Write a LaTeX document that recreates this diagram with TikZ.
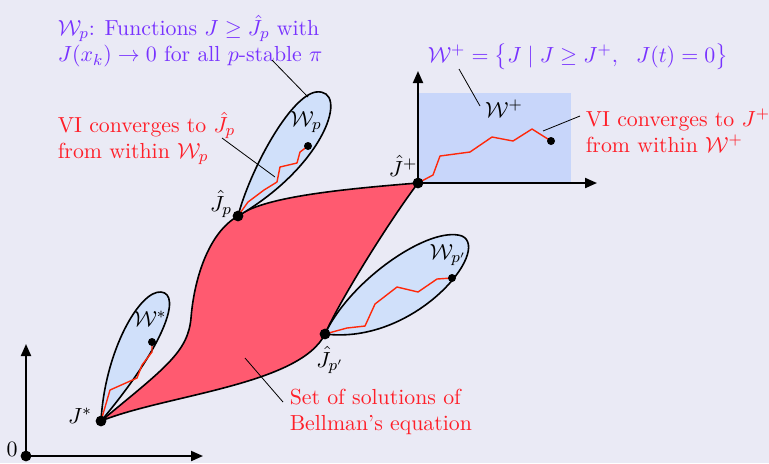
\documentclass[tikz,border=0pt]{standalone}
\usepackage{amsmath,amssymb}
\usetikzlibrary{arrows.meta}
\definecolor{bgcol}{RGB}{234,234,245}
\definecolor{setred}{RGB}{255,90,112}
\definecolor{leafblue}{RGB}{208,224,250}
\definecolor{wplusblue}{RGB}{200,214,250}
\definecolor{walkred}{RGB}{255,40,10}
\definecolor{txtred}{RGB}{255,30,40}
\definecolor{txtviolet}{RGB}{120,50,255}
\begin{document}
\begin{tikzpicture}[x=0.5pt, y=-0.5pt, line width=0.8pt,
  font=\fontsize{10.9}{13}\selectfont,
  leaf/.style={draw=black, fill=leafblue, line width=0.8pt},
  walk/.style={draw=walkred, line width=0.7pt, line join=round},
  axis/.style={-{Triangle[length=6pt,width=5pt]}, line width=1pt},
  pointer/.style={draw=black, line width=0.4pt},
  ptlabel/.style={inner sep=1pt},
  redtext/.style={text=txtred, align=left, inner sep=0pt},
  violettext/.style={text=txtviolet, align=left, inner sep=0pt}]
  \fill[bgcol] (0,0) rectangle (769,463);
  \useasboundingbox (0,0) rectangle (769,463);
  % points
  \coordinate (J0) at (26,456);
  \coordinate (Jstar) at (101,421);
  \coordinate (Jp) at (238,216);
  \coordinate (Jplus) at (418,183);
  \coordinate (Jpp) at (325,334);
  \coordinate (yTip0) at (26,344);
  \coordinate (xTip0) at (203,456);
  \coordinate (yTipP) at (418,71);
  \coordinate (xTipP) at (597,183);
  % set of solutions
  \filldraw[fill=setred, draw=black] (Jstar) .. controls (165,395) and (300,385) .. (Jpp)
    .. controls (340,300) and (390,220) .. (Jplus)
    .. controls (330,190) and (262,198) .. (Jp)
    .. controls (208,233) and (194,280) .. (191,318)
    .. controls (188,352) and (165,368) .. (Jstar) -- cycle;
  % leaves
  \draw[leaf] (Jstar) .. controls (105,350) and (140,290) .. (161,292)
    .. controls (182,294) and (165,345) .. (Jstar);
  \draw[leaf] (Jp) .. controls (250,170) and (290,96) .. (316,92)
    .. controls (350,88) and (326,165) .. (Jp);
  \draw[leaf] (Jpp) .. controls (350,280) and (430,225) .. (462,236)
    .. controls (492,250) and (415,345) .. (Jpp);
  \fill[wplusblue] (418,93) rectangle (571,183);
  % axes
  \draw[axis] (J0) -- (yTip0);
  \draw[axis] (J0) -- (xTip0);
  \draw[axis] (Jplus) -- (yTipP);
  \draw[axis] (Jplus) -- (xTipP);
  % value iterations
  \coordinate (vStar) at (152,342);
  \coordinate (vP) at (308,146);
  \coordinate (vPP) at (452,278);
  \coordinate (vPlus) at (551,141);
  \draw[walk] (Jstar) -- (110,390) -- (137,378) -- (142,365) -- (152,352) -- (vStar);
  \draw[walk] (Jp) -- (248,202) -- (264,190) -- (277,182) -- (280,167) -- (297,163) -- (300,152) -- (vP);
  \draw[walk] (Jpp) -- (347,328) -- (365,326) -- (375,304) -- (397,287) -- (418,292) -- (437,279) -- (vPP);
  \draw[walk] (Jplus) -- (433,175) -- (440,156) -- (470,152) -- (492,137) -- (513,141) -- (532,129) -- (vPlus);
  \foreach \pt in {J0,Jstar,Jp,Jplus,Jpp}
    \fill (\pt) circle (2.7pt);
  \foreach \pt in {vStar,vP,vPP,vPlus}
    \fill (\pt) circle (2pt);
  % labels of points and sets
  \node[ptlabel] (l0) at (12,449) {$0$};
  \node[ptlabel] (lJstar) at (80,416) {$J^*$};
  \node[ptlabel] (lJp) at (221,204) {$\hat J_p$};
  \node[ptlabel] (lJplus) at (403,166) {$\hat J^+$};
  \node[ptlabel] (lJpp) at (330,360) {$\hat J_{p'}$};
  \node[ptlabel] (lWstar) at (150,319) {$\mathcal{W}^*$};
  \node[ptlabel] (lWp) at (306,122) {$\mathcal{W}_p$};
  \node[ptlabel] (lWpp) at (448,255) {$\mathcal{W}_{p'}$};
  \node[ptlabel] (lWplus) at (504,109) {$\mathcal{W}^+$};
  % texts
  \node[violettext, anchor=north west] (tWp) at (57,14)
    {$\mathcal{W}_p$: Functions $J\geq\hat J_p$ with\\ $J(x_k)\to0$ for all $p$-stable $\pi$};
  \node[redtext, anchor=north west] (tVIp) at (57,111)
    {VI converges to $\hat J_p$\\ from within $\mathcal{W}_p$};
  \node[violettext, anchor=base west] (tWplus) at (427,62)
    {$\mathcal{W}^+=\bigl\{J\mid J\geq J^+,\ \ J(t)=0\bigr\}$};
  \node[redtext, anchor=north west] (tVIplus) at (585,108)
    {VI converges to $J^+$\\ from within $\mathcal{W}^+$};
  \node[redtext, anchor=north west] (tSet) at (289,388)
    {Set of solutions of\\ Bellman's equation};
  % pointers
  \coordinate (pWpA) at (272,60);  \coordinate (pWpB) at (308,97);
  \coordinate (pVIpA) at (222,138); \coordinate (pVIpB) at (275,177);
  \coordinate (pWplusA) at (459,69); \coordinate (pWplusB) at (480,106);
  \coordinate (pVIplusA) at (580,116); \coordinate (pVIplusB) at (543,131);
  \coordinate (pSetA) at (245,358); \coordinate (pSetB) at (283,402);
  \draw[pointer] (pWpA) -- (pWpB);
  \draw[pointer] (pVIpA) -- (pVIpB);
  \draw[pointer] (pWplusA) -- (pWplusB);
  \draw[pointer] (pVIplusA) -- (pVIplusB);
  \draw[pointer] (pSetA) -- (pSetB);
\end{tikzpicture}
\end{document}
